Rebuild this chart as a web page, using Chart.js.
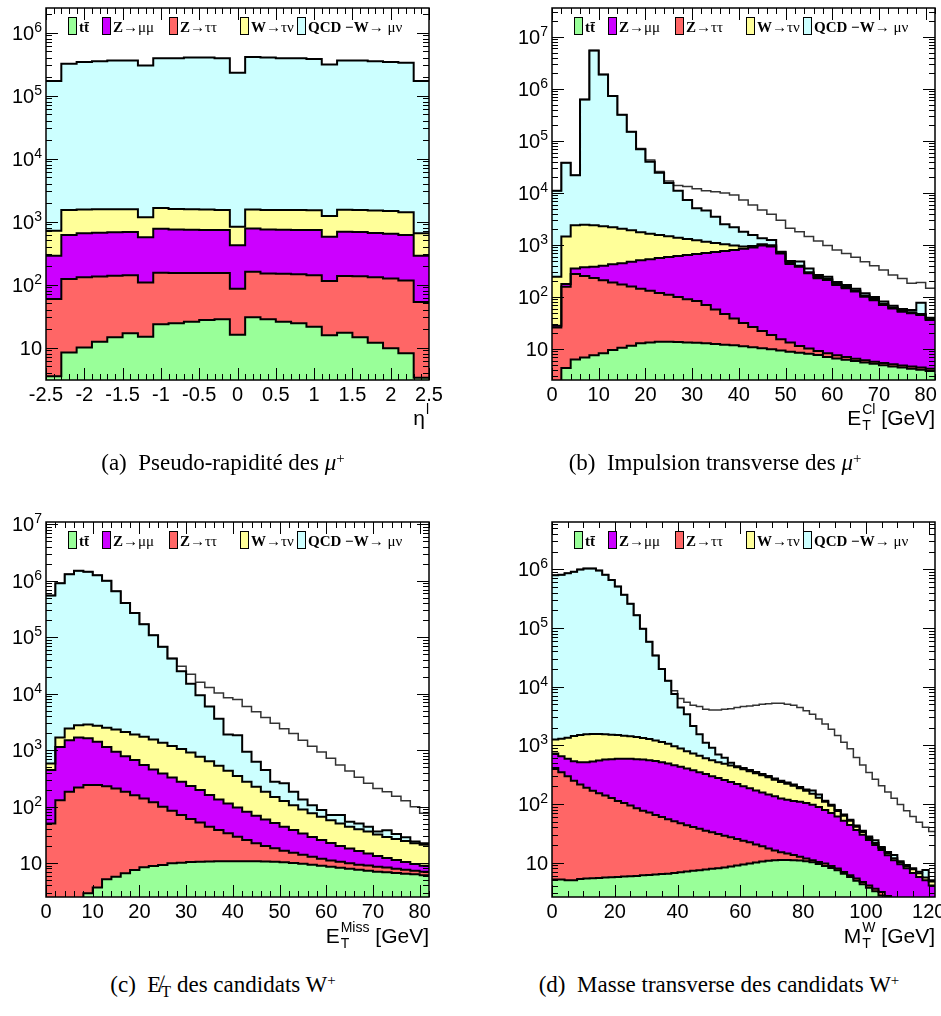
<!DOCTYPE html>
<html>
<head>
<meta charset="utf-8">
<title>Candidats W+</title>
<script src="https://cdn.jsdelivr.net/npm/chart.js@4.4.1/dist/chart.umd.min.js"></script>
<style>
  html, body { margin: 0; padding: 0; background: #fff; }
  body { position: relative; width: 941px; height: 1016px; overflow: hidden; }
  canvas { position: absolute; }
  .cap { position: absolute; font-family: "Liberation Serif", "Times New Roman", serif; font-size: 23px;
         line-height: 23px; white-space: nowrap; transform: translateX(-50%); }
  .cap sup { font-size: 65%; position: relative; top: -0.5em; vertical-align: 0; }
  .cap sub { font-size: 70%; position: relative; top: 0.3em; vertical-align: 0; }
</style>
</head>
<body>
<canvas id="etaChart" width="470" height="470" style="left:0;top:0"></canvas>
<canvas id="etChart" width="471" height="470" style="left:470px;top:0"></canvas>
<canvas id="metChart" width="470" height="460" style="left:0;top:500px"></canvas>
<canvas id="mtChart" width="471" height="460" style="left:470px;top:500px"></canvas>

<div class="cap" style="left:223px;top:451px">(a)&ensp;Pseudo-rapidité des <i>μ</i><sup>+</sup></div>
<div class="cap" style="left:715px;top:451px">(b)&ensp;Impulsion transverse des <i>μ</i><sup>+</sup></div>
<div class="cap" style="left:223px;top:973px">(c)&ensp;E&#x338;<sub>T</sub> des candidats W<sup>+</sup></div>
<div class="cap" style="left:719px;top:973px">(d)&ensp;Masse transverse des candidats W<sup>+</sup></div>

<script>
// binning of each histogram
const etaBins = { lo: -2.5, width: 0.2 };  // 25 bins
const etBins = { lo: 0, width: 2 };        // 41 bins, 0-82 GeV
const metBins = { lo: 0, width: 2 };       // 41 bins, 0-82 GeV
const mtBins = { lo: 0, width: 2 };        // 61 bins, 0-122 GeV

const legendLabels = ['tt̄', 'Z→μμ', 'Z→ττ', 'W→τν', 'QCD −W→ μν'];

// stacked histograms: every array is the top edge of its layer
// (a) eta
const etaTtbar = [3.5, 8.3, 10.0, 12.4, 14.5, 16.8, 14.8, 23.3, 24.2, 25.7, 27.3, 28.0, 16.0, 30.1, 28.0, 25.7, 24.2, 21.4, 15.6, 17.2, 14.5, 11.9, 9.7, 8.1, 3.3];
const etaZtautau = [59, 122, 130, 134, 138, 140, 108, 154, 152, 152, 153, 152, 86, 159, 150, 148, 145, 140, 114, 137, 135, 130, 125, 116, 53];
const etaZmumu = [286, 611, 650, 665, 675, 680, 561, 769, 745, 740, 735, 730, 419, 775, 745, 740, 735, 730, 574, 690, 680, 660, 640, 611, 286];
const etaWtaunu = [714, 1523, 1550, 1560, 1570, 1560, 1166, 1637, 1580, 1560, 1550, 1530, 828, 1550, 1530, 1520, 1520, 1510, 1222, 1540, 1530, 1500, 1470, 1400, 650];
const etaQcd = [1.7e5, 3.2e5, 3.4e5, 3.5e5, 3.6e5, 3.6e5, 3.0e5, 3.9e5, 3.9e5, 4.0e5, 4.0e5, 3.9e5, 2.3e5, 4.1e5, 4.0e5, 3.9e5, 3.9e5, 3.8e5, 3.1e5, 3.6e5, 3.6e5, 3.5e5, 3.4e5, 3.3e5, 1.7e5];

// (b) E_T cluster
const etTtbar = [1, 4.3, 6.3, 6.9, 7.6, 8.3, 9.6, 10.6, 11.6, 12.9, 13.4, 13.8, 13.8, 13.6, 13.4, 13.2, 12.9, 12.5, 12.1, 11.8, 11.3, 10.8, 10.3, 9.9, 9.4, 8.9, 8.5, 8.1, 7.7, 7.0, 6.6, 6.2, 5.9, 5.5, 5.2, 4.9, 4.6, 4.4, 4.2, 4.0, 3.8];
const etZtautau = [26, 158, 278, 254, 232, 209, 191, 174, 159, 145, 132, 120, 110, 100, 91, 84, 70, 57.5, 47, 38.6, 31.6, 26.5, 22.2, 18.6, 15.5, 13.3, 11.4, 10.2, 9.2, 8.3, 7.6, 7.0, 6.5, 6.1, 5.7, 5.4, 5.1, 4.8, 4.6, 4.4, 4.2];
const etZmumu = [28, 178, 355, 372, 384, 400, 427, 448, 475, 507, 530, 563, 588, 615, 645, 670, 705, 735, 770, 800, 850, 900, 975, 935, 690, 430, 380, 286, 229, 213, 170, 147, 127, 101, 87, 70, 60, 52, 49, 45, 36];
const etWtaunu = [245, 1450, 2400, 2450, 2400, 2300, 2200, 2050, 1930, 1750, 1650, 1550, 1470, 1380, 1300, 1230, 1150, 1090, 1030, 975, 935, 960, 1030, 990, 730, 455, 400, 300, 242, 225, 180, 155, 134, 107, 92, 74, 63, 54, 51, 47, 37.5];
const etQcd = [1.1e4, 3.8e4, 2.2e4, 6.3e5, 5.5e6, 1.9e6, 7.3e5, 3.2e5, 1.5e5, 6.9e4, 4.0e4, 2.45e4, 1.55e4, 1.11e4, 7300, 5100, 4600, 3500, 2500, 2200, 1800, 1550, 1350, 1250, 740, 490, 480, 355, 265, 245, 195, 170, 145, 118, 100, 82, 68, 59, 56, 78, 40];
const etWmunu = [1.1e4, 3.8e4, 2.2e4, 6.3e5, 5.5e6, 1.9e6, 7.3e5, 3.2e5, 1.5e5, 7.2e4, 4.3e4, 2.6e4, 1.7e4, 1.4e4, 1.33e4, 1.2e4, 1.1e4, 1.06e4, 1.0e4, 9100, 7300, 5900, 4700, 3900, 3000, 2100, 1800, 1450, 1200, 980, 800, 690, 580, 475, 400, 330, 265, 228, 183, 190, 147];

// (c) missing E_T
const metTtbar = [1, 1, 1, 1, 2.9, 3.7, 5.15, 5.7, 6.6, 7.5, 8.4, 8.85, 9.2, 9.9, 10.1, 10.4, 10.5, 10.6, 10.7, 10.7, 10.8, 10.8, 10.7, 10.6, 10.5, 10.3, 10.0, 9.75, 9.35, 8.95, 8.6, 8.25, 7.9, 7.6, 7.3, 7.0, 6.85, 6.65, 6.45, 6.3, 6.1];
const metZtautau = [50, 130, 183, 218, 240, 240, 230, 210, 183, 159, 139, 119, 99, 84, 71, 60, 52, 44, 38.4, 33.6, 29.2, 25.5, 22.3, 20, 18.2, 16.5, 15.2, 14, 12.9, 11.9, 11.1, 10.5, 9.9, 9.3, 9.0, 8.6, 8.3, 7.9, 7.6, 7.3, 7.0];
const metZmumu = [443, 1140, 1500, 1680, 1620, 1400, 1140, 935, 780, 665, 543, 454, 386, 329, 275, 231, 196, 160, 134, 113, 96, 81, 69, 59, 51, 44, 38.4, 33.2, 28.9, 25.5, 22.6, 20, 18.1, 16.3, 14.7, 13.3, 12.3, 11.3, 10.4, 9.6, 8.9];
const metWtaunu = [582, 1680, 2420, 2770, 2850, 2690, 2500, 2320, 2100, 1900, 1720, 1550, 1350, 1180, 1050, 910, 760, 638, 527, 430, 347, 275, 224, 183, 148, 126, 106, 89, 76, 66, 57, 50, 44, 39.5, 36, 32, 29, 26.6, 24.5, 22.3, 21];
const metQcd = [5.5e5, 9e5, 1.3e6, 1.5e6, 1.45e6, 1.25e6, 1.0e6, 6.5e5, 4.05e5, 2.7e5, 1.7e5, 1.08e5, 6.8e4, 4.2e4, 2.5e4, 1.5e4, 9400, 5900, 3600, 1900, 1840, 935, 620, 443, 275, 258, 183, 134, 106, 87, 71, 71, 54, 50, 44, 36, 38, 32.6, 28.5, 24, 22.3];
const metWmunu = [5.5e5, 9e5, 1.3e6, 1.5e6, 1.45e6, 1.25e6, 1.0e6, 6.5e5, 4.05e5, 2.7e5, 1.7e5, 1.08e5, 6.8e4, 4.2e4, 3.07e4, 2.2e4, 1.6e4, 1.29e4, 1.03e4, 8500, 7900, 5900, 4800, 3800, 3000, 2400, 1970, 1500, 1175, 922, 721, 543, 425, 332, 258, 210, 183, 153, 127, 99, 76];

// (d) transverse mass
const mtTtbar = [5.15, 5.15, 5.0, 5.0, 5.27, 5.35, 5.43, 5.5, 5.57, 5.65, 5.72, 5.8, 5.86, 5.93, 6.1, 6.18, 6.27, 6.43, 6.5, 6.68, 6.87, 7.06, 7.25, 7.44, 7.64, 7.84, 8.05, 8.27, 8.6, 8.95, 9.3, 9.7, 10.1, 10.5, 10.8, 11.0, 11.1, 11.1, 11.0, 10.9, 10.6, 10.2, 9.5, 8.8, 8.1, 7.44, 6.5, 5.7, 4.9, 4.3, 3.75, 3.25, 2.77, 2.3, 2, 2, 2, 2, 2, 2, 2];
const mtZtautau = [412, 347, 297, 250, 215, 190, 168, 152, 140, 126, 113, 104, 94, 85, 77, 71.5, 65, 60, 55, 51, 47, 43.4, 40.6, 38, 35, 33, 30.8, 28.8, 27, 25.3, 23.7, 22.2, 20.5, 19, 17.5, 16.2, 15.1, 14.4, 13.5, 12.6, 11.8, 11.0, 10.3, 9.7, 8.8, 7.95, 6.95, 6.1, 5.35, 4.7, 4.1, 3.6, 3.15, 2.7, 2.4, 2.2, 2.1, 2.1, 2.1, 2.1, 2.1];
const mtZmumu = [726, 653, 589, 536, 515, 515, 529, 551, 573, 580, 589, 589, 589, 580, 573, 557, 543, 515, 490, 458, 430, 402, 376, 347, 326, 297, 278, 257, 238, 219, 200, 185, 170, 157, 145, 135, 124, 118, 113, 109, 104, 97, 89, 79, 70, 61, 52, 44, 36, 30, 24.3, 20, 16.4, 13.4, 11, 9.4, 8.0, 6.7, 5.7, 5.0, 4.1];
const mtWtaunu = [1262, 1297, 1349, 1440, 1497, 1537, 1556, 1556, 1537, 1515, 1497, 1459, 1422, 1382, 1331, 1277, 1213, 1135, 1064, 968, 885, 796, 726, 661, 603, 557, 515, 483, 452, 423, 391, 361, 334, 308, 285, 260, 238, 222, 205, 186, 169, 150, 128, 109, 93, 76, 63, 52, 41, 33.3, 26.3, 21.6, 17.7, 14.5, 11.9, 10.1, 8.7, 7.7, 6.6, 5.6, 4.8];
const mtQcd = [7.9e5, 8.1e5, 8.6e5, 9.1e5, 9.9e5, 1.03e6, 1.03e6, 9.5e5, 8.1e5, 6.6e5, 5.1e5, 3.7e5, 2.6e5, 1.64e5, 9.7e4, 5.8e4, 3.4e4, 2.0e4, 1.26e4, 7500, 4400, 3400, 2140, 1540, 1110, 910, 700, 612, 503, 440, 410, 380, 350, 325, 300, 272, 250, 232, 214, 195, 177, 170, 145, 114, 97, 79, 66, 54, 43, 35, 28, 24, 18.5, 15.2, 13.5, 10.6, 9.1, 8.0, 7.0, 7.5, 5.0];
const mtWmunu = [7.9e5, 8.1e5, 8.6e5, 9.1e5, 9.9e5, 1.03e6, 1.03e6, 9.5e5, 8.1e5, 6.6e5, 5.1e5, 3.7e5, 2.6e5, 1.64e5, 9.7e4, 5.8e4, 3.4e4, 2.0e4, 1.26e4, 8500, 6300, 5400, 4800, 4600, 4100, 4000, 4000, 4100, 4200, 4400, 4600, 4700, 4800, 5000, 5100, 5200, 5200, 5000, 4800, 4400, 3900, 3400, 2800, 2300, 1880, 1470, 1130, 870, 620, 460, 345, 265, 205, 160, 125, 98, 77, 61, 49, 40, 34];

const SANS = '"Liberation Sans", Arial, sans-serif';
const SERIF = '"Liberation Serif", "Times New Roman", serif';
// layer colours, bottom to top: ttbar, Z->tautau, Z->mumu, W->taunu, QCD
const fills = ['#99ff99', '#ff6666', '#cc00ff', '#ffff99', '#ccffff'];
// legend order
const legendColors = [fills[0], fills[2], fills[1], fills[3], fills[4]];
const legendX = [22, 56, 123, 194, 251];

// histogram -> points at the low edge of every bin, plus the last upper edge
function histo(bins, values) {
  const pts = values.map((v, i) => ({ x: bins.lo + i * bins.width, y: v }));
  pts.push({ x: bins.lo + values.length * bins.width, y: values[values.length - 1] });
  return pts;
}

// draws text with greek letters in regular weight and the rest in bold
function drawMixed(ctx, text, x, y, size) {
  const runs = [];
  for (const ch of text) {
    const greek = ch >= '\u0370' && ch <= '\u03ff';
    if (runs.length && runs[runs.length - 1].greek === greek) runs[runs.length - 1].s += ch;
    else runs.push({ s: ch, greek });
  }
  ctx.textAlign = 'left';
  for (const r of runs) {
    ctx.font = (r.greek ? '' : 'bold ') + size + 'px ' + SERIF;
    ctx.fillText(r.s, x, y);
    x += ctx.measureText(r.s).width;
  }
}

// ROOT-like frame: inward ticks on all sides, 10^n labels, axis title, legend
const rootStyle = {
  id: 'rootStyle',
  afterDraw(chart, args, o) {
    const { ctx, chartArea: a } = chart;
    const xs = chart.scales.x, ys = chart.scales.y;
    ctx.save();
    ctx.strokeStyle = '#000';
    ctx.lineWidth = 1;
    ctx.beginPath();
    const nx = Math.floor((xs.max - xs.min) / o.xMinor + 1e-6);
    for (let i = 0; i <= nx; i++) {
      const v = xs.min + i * o.xMinor;
      const major = Math.abs(v / o.xMajor - Math.round(v / o.xMajor)) < 1e-6;
      const len = major ? 12 : 6;
      const px = Math.round(xs.getPixelForValue(v)) + 0.5;
      ctx.moveTo(px, a.bottom); ctx.lineTo(px, a.bottom - len);
      ctx.moveTo(px, a.top); ctx.lineTo(px, a.top + len);
    }
    const e0 = Math.floor(Math.log10(ys.min)), e1 = Math.ceil(Math.log10(ys.max));
    for (let e = e0; e <= e1; e++) {
      for (let k = 1; k <= 9; k++) {
        const v = k * Math.pow(10, e);
        if (v < ys.min || v > ys.max) continue;
        const len = k === 1 ? 12 : 6;
        const py = Math.round(ys.getPixelForValue(v)) + 0.5;
        ctx.moveTo(a.left, py); ctx.lineTo(a.left + len, py);
        ctx.moveTo(a.right, py); ctx.lineTo(a.right - len, py);
      }
    }
    ctx.stroke();
    ctx.lineWidth = 1.5;
    ctx.strokeRect(a.left, a.top, a.right - a.left, a.bottom - a.top);

    // decade labels
    ctx.fillStyle = '#000';
    ctx.textBaseline = 'alphabetic';
    ctx.textAlign = 'right';
    for (let e = Math.ceil(Math.log10(ys.min)); e <= Math.floor(Math.log10(ys.max)); e++) {
      const py = ys.getPixelForValue(Math.pow(10, e));
      const xr = a.left - 4;
      let supW = 0;
      if (e !== 1) {
        ctx.font = '14px ' + SANS;
        supW = ctx.measureText(String(e)).width;
        ctx.fillText(String(e), xr, py - 1);
      }
      ctx.font = '20px ' + SANS;
      ctx.fillText('10', xr - supW, py + 7);
    }

    // axis title, right aligned under the frame
    const t = o.title;
    const big = '21px ' + SANS, small = '14px ' + SANS;
    ctx.font = big;
    const wBase = ctx.measureText(t.base).width;
    const wRest = ctx.measureText(t.rest).width;
    ctx.font = small;
    const wScript = Math.max(ctx.measureText(t.sub).width, ctx.measureText(t.sup).width);
    const x0 = a.right - (wBase + wScript + wRest + 1);
    const yb = a.bottom + o.titleGap;
    ctx.textAlign = 'left';
    ctx.font = big;
    ctx.fillText(t.base, x0, yb);
    ctx.font = small;
    ctx.fillText(t.sub, x0 + wBase + 1, yb + 5);
    ctx.fillText(t.sup, x0 + wBase + 1, yb - 11);
    ctx.font = big;
    ctx.fillText(t.rest, x0 + wBase + wScript + 1, yb);

    // legend inside the frame
    legendLabels.forEach((label, i) => {
      const bx = a.left + legendX[i], by = a.top + 9;
      ctx.fillStyle = legendColors[i];
      ctx.fillRect(bx, by, 9, 18);
      ctx.lineWidth = 1;
      ctx.strokeRect(bx + 0.5, by + 0.5, 8, 17);
      ctx.fillStyle = '#000';
      drawMixed(ctx, label, bx + 11, a.top + 24, 15);
    });
    ctx.restore();
  }
};

function makeChart(id, cfg) {
  const datasets = cfg.layers.map((vals, i) => ({
    data: histo(cfg.bins, vals),
    backgroundColor: fills[i],
    borderColor: '#000',
    borderWidth: 2,
    fill: i === 0 ? 'start' : '-1',
    stepped: true,
    pointRadius: 0
  }));
  if (cfg.outline) {
    datasets.push({
      data: histo(cfg.bins, cfg.outline),
      borderColor: '#333',
      borderWidth: 1.5,
      fill: false,
      stepped: true,
      pointRadius: 0
    });
  }
  return new Chart(document.getElementById(id), {
    type: 'line',
    data: { datasets },
    options: {
      responsive: false,
      animation: false,
      events: [],
      layout: { padding: cfg.pad },
      plugins: {
        legend: { display: false },
        tooltip: { enabled: false },
        filler: { drawTime: 'beforeDatasetsDraw' },
        rootStyle: { xMajor: cfg.xMajor, xMinor: cfg.xMinor, title: cfg.title, titleGap: cfg.titleGap }
      },
      scales: {
        x: {
          type: 'linear', min: cfg.xMin, max: cfg.xMax,
          ticks: { stepSize: cfg.xMajor, includeBounds: false, autoSkip: false, maxRotation: 0,
                   padding: 3, color: '#000', font: { family: SANS, size: 20 },
                   callback: v => String(Math.round(v * 100) / 100) },
          grid: { display: false, drawTicks: false },
          border: { display: false },
          afterFit: s => { s.height = cfg.xAxisH; s.paddingLeft = 0; s.paddingRight = 0; }
        },
        y: {
          type: 'logarithmic', min: cfg.yMin, max: cfg.yMax,
          ticks: { display: false },
          grid: { display: false, drawTicks: false },
          border: { display: false },
          afterFit: s => { s.width = cfg.yAxisW; }
        }
      }
    },
    plugins: [rootStyle]
  });
}

makeChart('etaChart', {
  bins: etaBins, layers: [etaTtbar, etaZtautau, etaZmumu, etaWtaunu, etaQcd], outline: null,
  xMin: -2.5, xMax: 2.5, xMajor: 0.5, xMinor: 0.1, yMin: 3.05, yMax: 2.45e6,
  pad: { left: 0, top: 8, right: 41, bottom: 0 }, yAxisW: 46, xAxisH: 90, titleGap: 45,
  title: { base: 'η', sub: '', sup: 'l', rest: '' }
});
makeChart('etChart', {
  bins: etBins, layers: [etTtbar, etZtautau, etZmumu, etWtaunu, etQcd], outline: etWmunu,
  xMin: 0, xMax: 82, xMajor: 10, xMinor: 2, yMin: 2.54, yMax: 3.6e7,
  pad: { left: 0, top: 8, right: 6, bottom: 0 }, yAxisW: 82, xAxisH: 90, titleGap: 45,
  title: { base: 'E', sub: 'T', sup: 'Cl', rest: ' [GeV]' }
});
makeChart('metChart', {
  bins: metBins, layers: [metTtbar, metZtautau, metZmumu, metWtaunu, metQcd], outline: metWmunu,
  xMin: 0, xMax: 82, xMajor: 10, xMinor: 2, yMin: 2.5, yMax: 1.1e7,
  pad: { left: 0, top: 22, right: 41, bottom: 0 }, yAxisW: 46, xAxisH: 63, titleGap: 46,
  title: { base: 'E', sub: 'T', sup: 'Miss', rest: ' [GeV]' }
});
makeChart('mtChart', {
  bins: mtBins, layers: [mtTtbar, mtZtautau, mtZmumu, mtWtaunu, mtQcd], outline: mtWmunu,
  xMin: 0, xMax: 122, xMajor: 20, xMinor: 5, yMin: 2.6, yMax: 6.4e6,
  pad: { left: 0, top: 22, right: 6, bottom: 0 }, yAxisW: 82, xAxisH: 63, titleGap: 46,
  title: { base: 'M', sub: 'T', sup: 'W', rest: ' [GeV]' }
});
</script>
</body>
</html>
